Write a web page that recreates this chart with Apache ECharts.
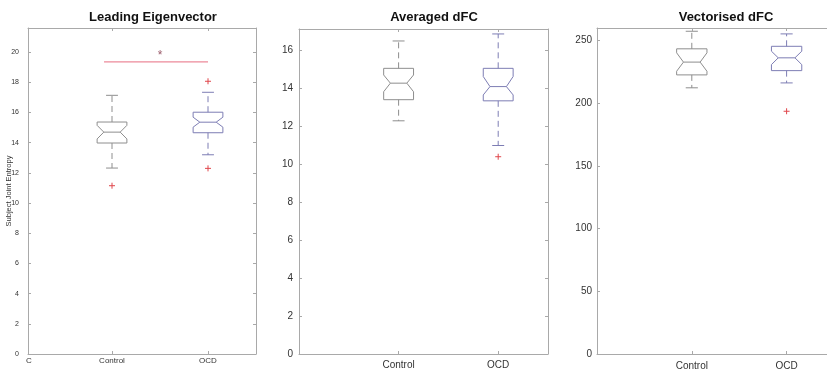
<!DOCTYPE html>
<html>
<head>
<meta charset="utf-8">
<script src="https://cdn.jsdelivr.net/npm/echarts@6/dist/echarts.min.js"></script>
<style>
  html, body { margin: 0; padding: 0; background: #fff; }
  #chart { width: 827px; height: 373px; }
</style>
</head>
<body>
<div id="chart"></div>
<script>
// ---------------- DATA ----------------
const categories = ['Control', 'OCD'];
const catPositions = [1, 2];
const panelTitles = ['Leading Eigenvector', 'Averaged dFC', 'Vectorised dFC'];
const yAxisName = 'Subject Joint Entropy';

// stats: [lowerWhisker, q1, notchLow, median, notchHigh, q3, upperWhisker]
const eigControl = [12.32, 13.98, 14.25, 14.7, 15.15, 15.37, 17.14];
const eigOCD     = [13.2, 14.66, 15.03, 15.36, 15.69, 16.02, 17.34];
const eigOutliersControl = [11.15];
const eigOutliersOCD     = [18.07, 12.3];
const eigSigLine = [[0.917, 19.36], [2, 19.36]];
const eigSigStar = [1.5, 19.75];

const avgControl = [12.27, 13.38, 13.8, 14.25, 14.68, 15.03, 16.47];
const avgOCD     = [10.97, 13.32, 13.63, 14.07, 14.6, 15.03, 16.84];
const avgOutliersControl = [];
const avgOutliersOCD     = [10.38];

const vecControl = [212.3, 222.6, 225.5, 232.8, 240.2, 243.4, 257.4];
const vecOCD     = [216.2, 226.0, 230.8, 236.2, 241.5, 245.4, 255.3];
const vecOutliersControl = [];
const vecOutliersOCD     = [193.6];

const yTicksEig = [0, 2, 4, 6, 8, 10, 12, 14, 16, 18, 20];
const yTicksAvg = [0, 2, 4, 6, 8, 10, 12, 14, 16];
const yTicksVec = [0, 50, 100, 150, 200, 250];

// ---------------- STYLE ----------------
const colControl = '#8e8e8e';
const colOCD = '#7d7db4';
const colOutlier = '#e0474c';
const colSig = '#ec8a9a';
const axisCol = '#a9a9a9';
const textCol = '#333333';
const fontFam = 'Liberation Sans, Arial, sans-serif';

const panels = [
  { grid: { left: 28, top: 28, width: 228, height: 326 }, xmin: 0.125, xmax: 2.5, ymax: 21.6,
    yticks: yTicksEig, control: eigControl, ocd: eigOCD, outC: eigOutliersControl, outO: eigOutliersOCD,
    halfW: 0.155, yFont: 7, xFont: 8, xMargin: 3, yMargin: 9 },
  { grid: { left: 299, top: 29, width: 249, height: 325 }, xmin: 0, xmax: 2.5, ymax: 17.1,
    yticks: yTicksAvg, control: avgControl, ocd: avgOCD, outC: avgOutliersControl, outO: avgOutliersOCD,
    halfW: 0.15, yFont: 10, xFont: 10, xMargin: 6, yMargin: 6 },
  { grid: { left: 597, top: 28, width: 237, height: 326 }, xmin: 0, xmax: 2.5, ymax: 260,
    yticks: yTicksVec, control: vecControl, ocd: vecOCD, outC: vecOutliersControl, outO: vecOutliersOCD,
    halfW: 0.16, yFont: 10, xFont: 10, xMargin: 7, yMargin: 5 }
];

function boxRenderer(halfW, color) {
  return function (params, api) {
    const x = api.value(0);
    const lw = api.value(1), q1 = api.value(2), nLo = api.value(3), med = api.value(4),
          nHi = api.value(5), q3 = api.value(6), uw = api.value(7);
    const innerW = halfW * 0.55;
    const capW = halfW * 0.4;
    const c = (dx, v) => api.coord([x + dx, v]);
    const pts = [c(-halfW, q3), c(halfW, q3), c(halfW, nHi), c(innerW, med), c(halfW, nLo),
                 c(halfW, q1), c(-halfW, q1), c(-halfW, nLo), c(-innerW, med), c(-halfW, nHi)];
    const solid = { stroke: color, lineWidth: 1, fill: null };
    const dashed = { stroke: color, lineWidth: 1, lineDash: [6, 4] };
    const line = (a, b, st) => ({ type: 'line', shape: { x1: a[0], y1: a[1], x2: b[0], y2: b[1] }, style: st });
    return {
      type: 'group',
      children: [
        { type: 'polygon', shape: { points: pts }, style: solid },
        line(c(-innerW, med), c(innerW, med), solid),
        line(c(0, q3), c(0, uw), dashed),
        line(c(0, q1), c(0, lw), dashed),
        line(c(-capW, uw), c(capW, uw), solid),
        line(c(-capW, lw), c(capW, lw), solid)
      ]
    };
  };
}

function plusRenderer(params, api) {
  const p = api.coord([api.value(0), api.value(1)]);
  const s = 3;
  const st = { stroke: colOutlier, lineWidth: 1 };
  return {
    type: 'group',
    children: [
      { type: 'line', shape: { x1: p[0] - s, y1: p[1], x2: p[0] + s, y2: p[1] }, style: st },
      { type: 'line', shape: { x1: p[0], y1: p[1] - s, x2: p[0], y2: p[1] + s }, style: st }
    ]
  };
}

const grids = [], xAxes = [], yAxes = [], series = [], titles = [];
panels.forEach((p, i) => {
  grids.push(Object.assign({ outerBoundsMode: 'none', containLabel: false }, p.grid));
  const baseLine = { show: true, onZero: false, lineStyle: { color: axisCol, width: 1 } };
  // bottom x
  xAxes.push({
    gridIndex: i, type: 'value', min: p.xmin, max: p.xmax, position: 'bottom',
    axisLine: baseLine, splitLine: { show: false },
    axisTick: { show: true, inside: true, length: 3, customValues: catPositions, lineStyle: { color: axisCol } },
    axisLabel: { customValues: catPositions, fontSize: p.xFont, color: textCol, margin: p.xMargin,
      fontFamily: fontFam,
      formatter: v => categories[catPositions.indexOf(v)] || '' }
  });
  // top x (box border)
  xAxes.push({
    gridIndex: i, type: 'value', min: p.xmin, max: p.xmax, position: 'top',
    axisLine: baseLine, splitLine: { show: false },
    axisTick: { show: true, inside: true, length: 3, customValues: catPositions, lineStyle: { color: axisCol } },
    axisLabel: { show: false }
  });
  // left y
  yAxes.push({
    gridIndex: i, type: 'value', min: 0, max: p.ymax, position: 'left',
    axisLine: baseLine, splitLine: { show: false },
    axisTick: { show: true, inside: true, length: 3, customValues: p.yticks, lineStyle: { color: axisCol } },
    axisLabel: { customValues: p.yticks, fontSize: p.yFont, color: textCol, margin: p.yMargin,
      fontFamily: fontFam },
    name: i === 0 ? yAxisName : '', nameLocation: 'middle', nameGap: 15.5, nameMoveOverlap: false,
    nameTextStyle: { fontSize: 7.5, color: textCol, fontFamily: fontFam }
  });
  // right y (box border)
  yAxes.push({
    gridIndex: i, type: 'value', min: 0, max: p.ymax, position: 'right',
    axisLine: baseLine, splitLine: { show: false },
    axisTick: { show: true, inside: true, length: 3, customValues: p.yticks, lineStyle: { color: axisCol } },
    axisLabel: { show: false }
  });
  const xi = i * 2, yi = i * 2;
  series.push({
    type: 'custom', xAxisIndex: xi, yAxisIndex: yi, renderItem: boxRenderer(p.halfW, colControl),
    data: [[catPositions[0]].concat(p.control)], encode: { x: 0, y: [1, 2, 3, 4, 5, 6, 7] }, silent: true
  });
  series.push({
    type: 'custom', xAxisIndex: xi, yAxisIndex: yi, renderItem: boxRenderer(p.halfW, colOCD),
    data: [[catPositions[1]].concat(p.ocd)], encode: { x: 0, y: [1, 2, 3, 4, 5, 6, 7] }, silent: true
  });
  const outs = p.outC.map(v => [catPositions[0], v]).concat(p.outO.map(v => [catPositions[1], v]));
  series.push({
    type: 'custom', xAxisIndex: xi, yAxisIndex: yi, renderItem: plusRenderer,
    data: outs, encode: { x: 0, y: 1 }, silent: true
  });
  titles.push({
    text: panelTitles[i], left: [148, 429, 721][i], top: 6, textAlign: 'center',
    textStyle: { fontSize: 13, fontWeight: 'bold', color: '#111', fontFamily: fontFam }
  });
});

// significance marker on the first panel
series.push({
  type: 'line', xAxisIndex: 0, yAxisIndex: 0, data: eigSigLine, symbol: 'none',
  lineStyle: { color: colSig, width: 1.2 }, silent: true, animation: false
});
series.push({
  type: 'custom', xAxisIndex: 0, yAxisIndex: 0, data: [eigSigStar], encode: { x: 0, y: 1 }, silent: true,
  renderItem: function (params, api) {
    const p = api.coord([api.value(0), api.value(1)]);
    return { type: 'text', x: p[0], y: p[1],
      style: { text: '*', fill: '#9a5a6a', fontSize: 12, align: 'center', verticalAlign: 'middle',
               fontFamily: fontFam } };
  }
});

const chart = echarts.init(document.getElementById('chart'), null, { renderer: 'canvas' });
chart.setOption({
  animation: false,
  backgroundColor: '#ffffff',
  title: titles,
  grid: grids,
  xAxis: xAxes,
  yAxis: yAxes,
  series: series,
  graphic: [
    { type: 'text', left: 26, top: 357, style: { text: 'C', fontSize: 8, fill: textCol, fontFamily: fontFam } }
  ]
});
</script>
</body>
</html>
